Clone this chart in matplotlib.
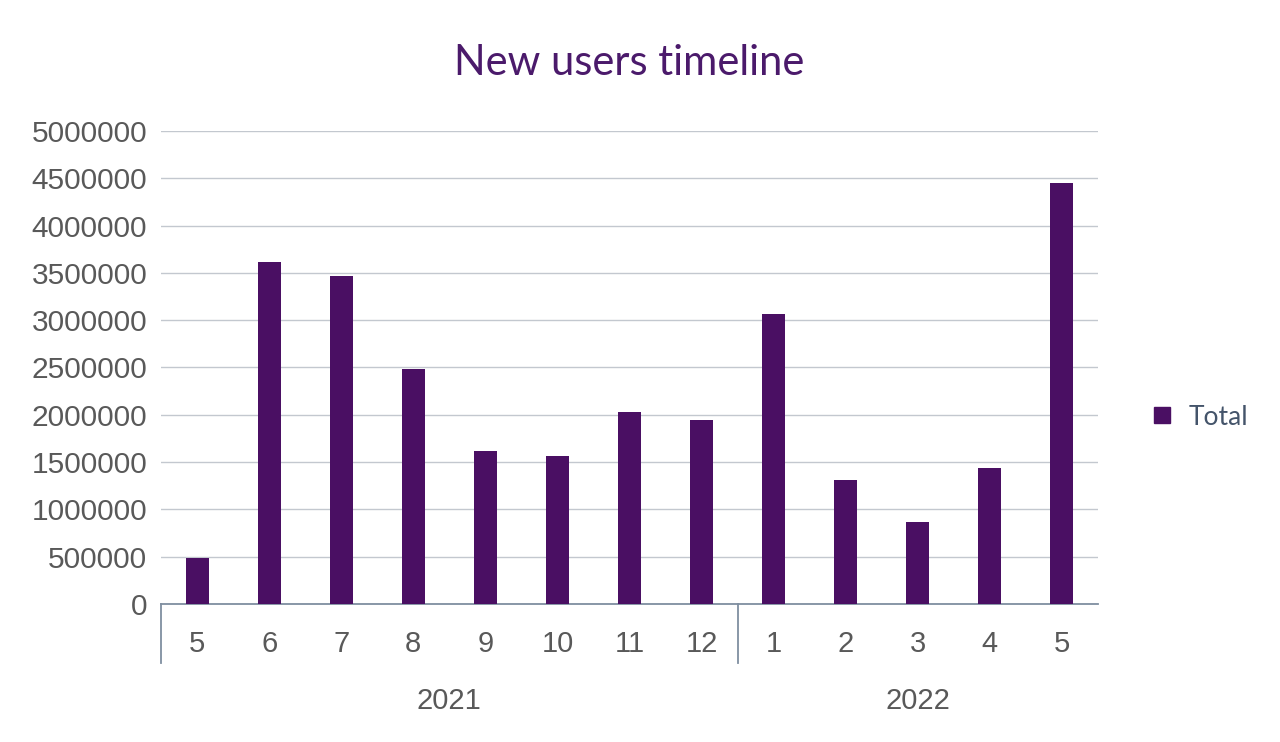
import numpy as np
import matplotlib.pyplot as plt
from matplotlib.lines import Line2D
from matplotlib.transforms import blended_transform_factory

# data
months = ['5', '6', '7', '8', '9', '10', '11', '12', '1', '2', '3', '4', '5']
years = ['2021', '2022']
months_per_year = [8, 5]
totals = [485000, 3615000, 3465000, 2485000, 1615000, 1565000, 2030000,
          1945000, 3065000, 1310000, 865000, 1440000, 4450000]

bar_color = '#4a0f63'
title_color = '#4b1a6b'
tick_color = '#595959'
axis_color = '#7f8fa0'
grid_color = '#c3c8cf'

plt.rcParams['font.family'] = ['Liberation Sans', 'DejaVu Sans']

fig = plt.figure(figsize=(12.8, 7.42), dpi=100)
ax = fig.add_axes([0.1258, 0.186, 0.732, 0.6375])

x = np.arange(len(totals))
ax.bar(x, totals, width=0.32, color=bar_color, zorder=3, label='Total')

ax.set_xlim(-0.5, len(totals) - 0.5)
ax.set_ylim(0, 5000000)
ax.set_yticks(np.arange(0, 5000001, 500000))
ax.set_yticklabels([str(v) for v in range(0, 5000001, 500000)])
ax.yaxis.grid(True, color=grid_color, linewidth=1.0, zorder=0)
ax.set_axisbelow(True)

ax.set_xticks(x)
ax.set_xticklabels(months)
ax.tick_params(axis='x', length=0, pad=19, labelsize=21, labelcolor=tick_color)
ax.tick_params(axis='y', length=0, pad=10, labelsize=21.5, labelcolor=tick_color)

for side in ['top', 'right', 'left']:
    ax.spines[side].set_visible(False)
ax.spines['bottom'].set_color(axis_color)
ax.spines['bottom'].set_linewidth(1.3)

# year group labels and separators under the month ticks
trans = blended_transform_factory(ax.transData, ax.transAxes)
start = -0.5
for year, n in zip(years, months_per_year):
    ax.plot([start, start], [0, -0.125], transform=trans, color=axis_color,
            linewidth=1.3, clip_on=False)
    ax.text(start + n / 2, -0.205, year, transform=trans, ha='center', va='center',
            fontsize=21, color=tick_color)
    start += n

ax.set_title('New users timeline', fontsize=30, color=title_color,
             family=['Lato', 'DejaVu Sans'], pad=40)

handle = Line2D([], [], marker='s', linestyle='none', markersize=12,
                color=bar_color)
leg = ax.legend([handle], ['Total'], loc='center left', bbox_to_anchor=(1.04, 0.395),
                frameon=False, fontsize=19, handletextpad=0.4, borderaxespad=0,
                handlelength=1.2)
for t in leg.get_texts():
    t.set_color('#44546a')
    t.set_family(['Lato', 'DejaVu Sans'])

fig.savefig('out.png', dpi=100, facecolor='white')
